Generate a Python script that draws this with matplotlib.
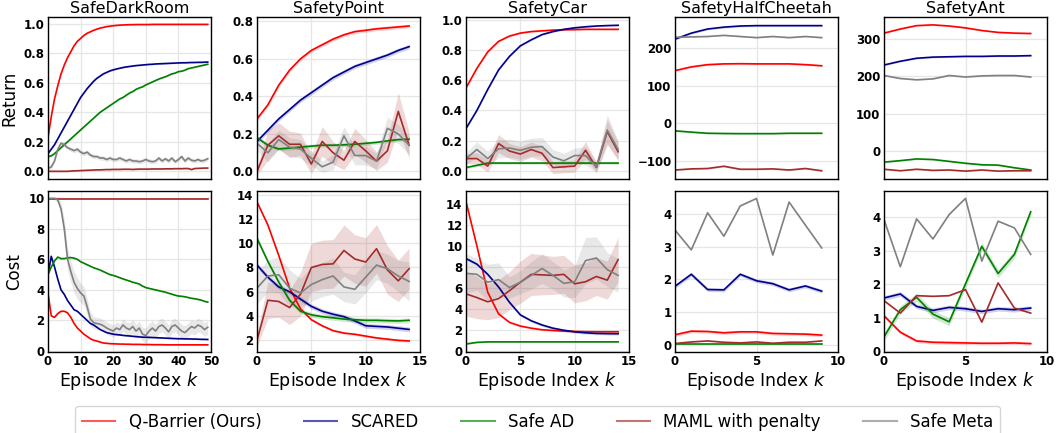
import matplotlib

matplotlib.use("Agg")
import matplotlib.pyplot as plt
import numpy as np
from matplotlib.lines import Line2D

# ---- methods ----
METHODS = ["Q-Barrier (Ours)", "SCARED", "Safe AD", "MAML with penalty", "Safe Meta"]
COLORS = ["red", "darkblue", "green", "brown", "gray"]
ENVS = ["SafeDarkRoom", "SafetyPoint", "SafetyCar", "SafetyHalfCheetah", "SafetyAnt"]

# ---- SafeDarkRoom (50 episodes) ----
dr_ret_qb = [0.23, 0.37, 0.49, 0.58, 0.66, 0.72, 0.77, 0.81, 0.85, 0.88,
             0.90, 0.92, 0.935, 0.945, 0.955, 0.963, 0.97, 0.975, 0.98, 0.983,
             0.986, 0.988, 0.99, 0.991, 0.992, 0.993, 0.993, 0.994, 0.994, 0.994,
             0.994, 0.994, 0.995, 0.995, 0.995, 0.995, 0.995, 0.995, 0.995, 0.995,
             0.995, 0.995, 0.995, 0.995, 0.995, 0.995, 0.995, 0.995, 0.995, 0.995]
dr_ret_sc = [0.12, 0.15, 0.18, 0.22, 0.26, 0.30, 0.34, 0.38, 0.42, 0.46,
             0.50, 0.53, 0.56, 0.585, 0.61, 0.63, 0.645, 0.66, 0.67, 0.68,
             0.687, 0.693, 0.698, 0.703, 0.707, 0.71, 0.713, 0.716, 0.718, 0.72,
             0.722, 0.724, 0.725, 0.727, 0.728, 0.729, 0.73, 0.731, 0.732, 0.733,
             0.734, 0.735, 0.735, 0.736, 0.737, 0.737, 0.738, 0.738, 0.739, 0.74]
dr_ret_ad = [0.10, 0.105, 0.12, 0.14, 0.16, 0.18, 0.20, 0.22, 0.24, 0.26,
             0.28, 0.30, 0.32, 0.34, 0.36, 0.38, 0.40, 0.415, 0.43, 0.445,
             0.46, 0.475, 0.49, 0.50, 0.515, 0.53, 0.54, 0.555, 0.565, 0.572,
             0.585, 0.595, 0.605, 0.615, 0.625, 0.633, 0.64, 0.65, 0.66, 0.665,
             0.675, 0.678, 0.685, 0.695, 0.70, 0.705, 0.71, 0.715, 0.72, 0.725]
dr_ret_mp = [0.0, 0.0, 0.0, 0.0, 0.0, 0.0, 0.0, 0.002, 0.003, 0.004,
             0.005, 0.006, 0.007, 0.008, 0.009, 0.01, 0.01, 0.011, 0.012, 0.012,
             0.013, 0.013, 0.013, 0.014, 0.014, 0.014, 0.013, 0.014, 0.015, 0.015,
             0.015, 0.015, 0.016, 0.016, 0.016, 0.016, 0.017, 0.017, 0.017, 0.018,
             0.018, 0.018, 0.019, 0.019, 0.012, 0.019, 0.02, 0.021, 0.022, 0.022]
dr_ret_sm = [0.02, 0.03, 0.07, 0.15, 0.19, 0.18, 0.16, 0.15, 0.14, 0.15,
             0.13, 0.12, 0.13, 0.11, 0.10, 0.10, 0.09, 0.09, 0.08, 0.09,
             0.08, 0.08, 0.09, 0.08, 0.07, 0.08, 0.07, 0.07, 0.065, 0.07,
             0.08, 0.07, 0.065, 0.07, 0.09, 0.07, 0.085, 0.07, 0.09, 0.065,
             0.08, 0.1, 0.07, 0.09, 0.075, 0.07, 0.08, 0.07, 0.075, 0.085]
dr_ret_sd = [0.004, 0.004, 0.004, 0.004, 0.015]

dr_cost_qb = [3.8, 2.3, 2.2, 2.45, 2.6, 2.6, 2.5, 2.2, 1.8, 1.5,
              1.3, 1.1, 0.95, 0.8, 0.7, 0.65, 0.58, 0.52, 0.5, 0.48,
              0.47, 0.46, 0.45, 0.45, 0.44, 0.44, 0.43, 0.43, 0.43, 0.42,
              0.42, 0.42, 0.41, 0.41, 0.41, 0.41, 0.4, 0.4, 0.4, 0.4,
              0.4, 0.4, 0.4, 0.4, 0.4, 0.4, 0.4, 0.4, 0.4, 0.4]
dr_cost_sc = [5.0, 6.2, 5.5, 4.7, 4.0, 3.7, 3.3, 3.0, 2.7, 2.6,
              2.4, 2.2, 2.0, 1.8, 1.7, 1.55, 1.4, 1.3, 1.2, 1.15,
              1.1, 1.07, 1.05, 1.02, 1.0, 0.98, 0.96, 0.94, 0.92, 0.9,
              0.9, 0.89, 0.88, 0.87, 0.86, 0.85, 0.84, 0.83, 0.82, 0.81,
              0.8, 0.8, 0.79, 0.79, 0.78, 0.78, 0.77, 0.76, 0.76, 0.75]
dr_cost_ad = [5.0, 5.5, 5.9, 6.15, 6.05, 6.05, 6.1, 6.12, 6.08, 6.0,
              5.85, 5.75, 5.65, 5.55, 5.45, 5.38, 5.3, 5.2, 5.1, 5.0,
              4.95, 4.88, 4.8, 4.72, 4.65, 4.58, 4.5, 4.45, 4.38, 4.25,
              4.15, 4.1, 4.05, 4.0, 3.95, 3.9, 3.85, 3.78, 3.72, 3.65,
              3.6, 3.58, 3.55, 3.5, 3.45, 3.42, 3.38, 3.33, 3.25, 3.2]
dr_cost_mp = [9.95] * 50
dr_cost_sm = [10.0, 10.0, 10.0, 9.9, 9.3, 8.0, 6.0, 5.2, 4.5, 4.1,
              3.8, 3.6, 2.9, 2.1, 1.85, 1.8, 1.75, 1.65, 1.5, 1.4,
              1.3, 1.5, 1.4, 1.7, 1.5, 1.4, 1.6, 1.3, 1.5, 1.1,
              1.0, 1.3, 1.5, 1.3, 1.6, 1.7, 1.5, 1.25, 1.6, 1.7,
              1.5, 1.3, 1.2, 1.4, 1.6, 1.5, 1.7, 1.6, 1.4, 1.55]
dr_cost_sm_sd = [0.05, 0.05, 0.1, 0.2, 0.4, 0.6, 0.7, 0.7, 0.7, 0.7,
                 0.65, 0.6, 0.55, 0.45, 0.4, 0.4, 0.4, 0.4, 0.4, 0.4,
                 0.4, 0.4, 0.4, 0.4, 0.4, 0.45, 0.45, 0.45, 0.45, 0.45,
                 0.5, 0.5, 0.5, 0.45, 0.45, 0.45, 0.45, 0.45, 0.45, 0.45,
                 0.45, 0.45, 0.45, 0.45, 0.45, 0.45, 0.45, 0.45, 0.45, 0.45]
dr_cost_sd = [0.04, 0.04, 0.04, 0.08, dr_cost_sm_sd]

# ---- SafetyPoint (15 episodes) ----
pt_ret_qb = [0.28, 0.355, 0.46, 0.54, 0.60, 0.645, 0.675, 0.705, 0.728, 0.745,
             0.752, 0.76, 0.765, 0.77, 0.775]
pt_ret_sc = [0.16, 0.22, 0.28, 0.33, 0.38, 0.42, 0.46, 0.50, 0.53, 0.56,
             0.58, 0.60, 0.62, 0.645, 0.665]
pt_ret_ad = [0.18, 0.14, 0.12, 0.125, 0.13, 0.135, 0.14, 0.14, 0.142, 0.145,
             0.15, 0.155, 0.163, 0.17, 0.172]
pt_ret_mp = [0.0, 0.14, 0.19, 0.145, 0.145, 0.04, 0.16, 0.10, 0.06, 0.16,
             0.11, 0.055, 0.11, 0.32, 0.14]
pt_ret_sm = [0.15, 0.10, 0.17, 0.13, 0.12, 0.07, 0.025, 0.05, 0.19, 0.085,
             0.085, 0.055, 0.23, 0.20, 0.14]
pt_ret_mp_sd = [0.02, 0.08, 0.07, 0.07, 0.06, 0.05, 0.08, 0.06, 0.05, 0.07,
                0.06, 0.05, 0.06, 0.1, 0.07]
pt_ret_sm_sd = [0.04, 0.05, 0.05, 0.05, 0.05, 0.04, 0.03, 0.04, 0.05, 0.05,
                0.05, 0.04, 0.06, 0.05, 0.05]
pt_ret_sd = [0.01, 0.012, 0.01, pt_ret_mp_sd, pt_ret_sm_sd]

pt_cost_qb = [13.4, 11.5, 9.0, 6.3, 4.6, 3.7, 3.2, 2.8, 2.6, 2.5,
              2.35, 2.2, 2.1, 2.0, 1.95]
pt_cost_sc = [8.2, 7.2, 6.4, 6.0, 5.4, 4.8, 4.4, 4.15, 3.95, 3.6,
              3.2, 3.15, 3.1, 3.0, 2.9]
pt_cost_ad = [10.4, 8.5, 6.8, 5.3, 4.4, 4.1, 3.95, 3.85, 3.75, 3.7,
              3.65, 3.65, 3.62, 3.6, 3.65]
pt_cost_mp = [2.0, 5.3, 5.2, 4.7, 5.8, 8.0, 8.25, 8.3, 9.4, 8.7,
              8.45, 9.55, 7.8, 6.9, 7.9]
pt_cost_sm = [6.3, 7.3, 7.4, 6.3, 5.9, 6.6, 7.0, 7.3, 6.4, 6.2,
              7.2, 8.2, 7.9, 7.3, 6.85]
pt_cost_mp_sd = [0.5, 1.5, 1.3, 1.4, 1.8, 2.0, 2.0, 2.0, 2.1, 2.0,
                 2.0, 2.0, 2.0, 1.7, 1.7]
pt_cost_sm_sd = [1.3, 1.3, 1.5, 1.5, 1.2, 1.4, 1.4, 1.5, 1.2, 1.2,
                 1.3, 1.2, 1.2, 1.3, 1.6]
pt_cost_sd = [0.1, 0.2, 0.2, pt_cost_mp_sd, pt_cost_sm_sd]

# ---- SafetyCar (15 episodes) ----
car_ret_qb = [0.55, 0.68, 0.79, 0.86, 0.895, 0.915, 0.925, 0.93, 0.935, 0.937,
              0.938, 0.94, 0.94, 0.94, 0.94]
car_ret_sc = [0.28, 0.40, 0.54, 0.67, 0.76, 0.83, 0.87, 0.905, 0.925, 0.94,
              0.95, 0.957, 0.962, 0.965, 0.967]
car_ret_ad = [0.02, 0.035, 0.05, 0.05, 0.05, 0.05, 0.05, 0.05, 0.05, 0.05,
              0.05, 0.05, 0.05, 0.05, 0.05]
car_ret_mp = [0.08, 0.08, 0.03, 0.18, 0.13, 0.11, 0.14, 0.115, 0.02, 0.025,
              0.03, 0.135, 0.02, 0.26, 0.125]
car_ret_sm = [0.08, 0.14, 0.08, 0.145, 0.15, 0.135, 0.155, 0.16, 0.09, 0.065,
              0.10, 0.10, 0.025, 0.27, 0.14]
car_ret_mp_sd = [0.03, 0.04, 0.04, 0.06, 0.05, 0.05, 0.05, 0.05, 0.04, 0.04,
                 0.04, 0.06, 0.03, 0.08, 0.06]
car_ret_sm_sd = [0.04, 0.05, 0.05, 0.06, 0.06, 0.06, 0.06, 0.06, 0.05, 0.05,
                 0.05, 0.06, 0.04, 0.1, 0.06]
car_ret_sd = [0.005, 0.005, 0.008, car_ret_mp_sd, car_ret_sm_sd]

car_cost_qb = [14.2, 10.0, 5.6, 3.55, 2.75, 2.4, 2.2, 2.05, 1.98, 1.92,
               1.89, 1.87, 1.86, 1.86, 1.86]
car_cost_sc = [8.8, 8.27, 7.3, 6.1, 4.65, 3.46, 2.9, 2.5, 2.2, 2.0,
               1.85, 1.76, 1.7, 1.68, 1.67]
car_cost_ad = [0.7, 0.85, 0.9, 0.9, 0.9, 0.9, 0.9, 0.9, 0.9, 0.9,
               0.9, 0.9, 0.9, 0.9, 0.9]
car_cost_mp = [5.45, 5.1, 4.7, 5.0, 5.75, 6.55, 7.3, 7.25, 7.2, 7.3,
               6.4, 6.6, 7.1, 6.75, 8.7]
car_cost_sm = [7.4, 7.3, 6.55, 6.8, 6.05, 6.55, 7.2, 7.85, 7.2, 6.45,
               6.6, 8.6, 8.85, 7.75, 7.2]
car_cost_mp_sd = [2.1, 2.0, 1.7, 1.8, 1.8, 2.0, 2.0, 1.9, 1.8, 1.8,
                  1.8, 1.8, 1.8, 1.8, 2.1]
car_cost_sm_sd = [1.9, 1.5, 1.7, 1.6, 1.0, 1.1, 1.3, 1.4, 1.3, 1.3,
                  1.5, 2.2, 2.0, 1.6, 1.6]
car_cost_sd = [0.08, 0.12, 0.05, car_cost_mp_sd, car_cost_sm_sd]

# ---- SafetyHalfCheetah (10 episodes) ----
hc_ret_qb = [140, 150, 156, 158, 158.5, 158, 158, 158, 156, 153]
hc_ret_sc = [224, 240, 251, 256, 259, 260, 260, 260, 260, 260]
hc_ret_ad = [-20.5, -24, -27, -27.6, -28, -28, -28, -27, -27, -27]
hc_ret_mp = [-125, -122, -121, -115, -123, -123, -122, -125, -121, -127]
hc_ret_sm = [229, 230, 231, 234, 231, 228, 231, 228, 231, 228]
hc_ret_sd = [2.5, 2.5, 2.0, 2.0, 1.5]

hc_cost_qb = [0.30, 0.41, 0.40, 0.36, 0.39, 0.39, 0.34, 0.33, 0.32, 0.29]
hc_cost_sc = [1.79, 2.16, 1.69, 1.68, 2.16, 1.96, 1.87, 1.68, 1.80, 1.64]
hc_cost_ad = [0.005, 0.005, 0.005, 0.005, 0.005, 0.005, 0.005, 0.005, 0.005, 0.005]
hc_cost_mp = [0.03, 0.08, 0.11, 0.07, 0.05, 0.08, 0.04, 0.07, 0.07, 0.11]
hc_cost_sm = [3.52, 2.91, 4.05, 3.33, 4.26, 4.49, 2.75, 4.38, 3.67, 2.97]
hc_cost_sd = [0.05, 0.06, 0.02, 0.015, 0.01]

# ---- SafetyAnt (10 episodes) ----
ant_ret_qb = [315, 326, 335, 337, 334, 329, 322, 317, 315, 314]
ant_ret_sc = [230, 240, 248, 251, 252, 253, 253, 254, 254, 255]
ant_ret_ad = [-29, -25, -20.5, -22, -27, -32, -36, -37, -44, -50]
ant_ret_mp = [-48, -52, -48, -51, -50, -53, -50, -53, -52, -52]
ant_ret_sm = [202, 194, 190.5, 193, 202, 198, 201, 202, 202, 198]
ant_ret_sd = [2.0, 2.0, 2.0, 1.5, 1.5]

ant_cost_qb = [1.06, 0.57, 0.31, 0.27, 0.26, 0.25, 0.24, 0.24, 0.25, 0.23]
ant_cost_sc = [1.59, 1.71, 1.34, 1.22, 1.31, 1.27, 1.19, 1.27, 1.24, 1.29]
ant_cost_ad = [0.43, 1.24, 1.61, 1.11, 0.88, 2.01, 3.13, 2.32, 2.89, 4.16]
ant_cost_mp = [1.51, 1.14, 1.66, 1.64, 1.66, 1.84, 0.87, 2.04, 1.29, 1.14]
ant_cost_sm = [3.93, 2.52, 3.95, 3.35, 4.08, 4.56, 2.69, 3.88, 3.68, 2.89]
ant_cost_sd = [0.05, 0.07, 0.12, 0.015, 0.01]

RETURNS = [
    ([dr_ret_qb, dr_ret_sc, dr_ret_ad, dr_ret_mp, dr_ret_sm], dr_ret_sd),
    ([pt_ret_qb, pt_ret_sc, pt_ret_ad, pt_ret_mp, pt_ret_sm], pt_ret_sd),
    ([car_ret_qb, car_ret_sc, car_ret_ad, car_ret_mp, car_ret_sm], car_ret_sd),
    ([hc_ret_qb, hc_ret_sc, hc_ret_ad, hc_ret_mp, hc_ret_sm], hc_ret_sd),
    ([ant_ret_qb, ant_ret_sc, ant_ret_ad, ant_ret_mp, ant_ret_sm], ant_ret_sd),
]
COSTS = [
    ([dr_cost_qb, dr_cost_sc, dr_cost_ad, dr_cost_mp, dr_cost_sm], dr_cost_sd),
    ([pt_cost_qb, pt_cost_sc, pt_cost_ad, pt_cost_mp, pt_cost_sm], pt_cost_sd),
    ([car_cost_qb, car_cost_sc, car_cost_ad, car_cost_mp, car_cost_sm], car_cost_sd),
    ([hc_cost_qb, hc_cost_sc, hc_cost_ad, hc_cost_mp, hc_cost_sm], hc_cost_sd),
    ([ant_cost_qb, ant_cost_sc, ant_cost_ad, ant_cost_mp, ant_cost_sm], ant_cost_sd),
]

XLIMS = [(0, 50), (0, 15), (0, 15), (0, 10), (0, 10)]
XTICKS = [[0, 10, 20, 30, 40, 50], [0, 5, 10, 15], [0, 5, 10, 15], [0, 5, 10], [0, 5, 10]]
RET_YLIMS = [(-0.052, 1.045), (-0.04, 0.823), (-0.056, 1.022), (-149, 283), (-74, 358)]
RET_YTICKS = [np.arange(0, 1.01, 0.2), np.arange(0, 0.81, 0.2), np.arange(0, 1.01, 0.2),
              [-100, 0, 100, 200], [0, 100, 200, 300]]
COST_YLIMS = [(-0.07, 10.48), (1.04, 14.3), (-0.06, 15.2), (-0.23, 4.72), (-0.02, 4.78)]
COST_YTICKS = [[0, 2, 4, 6, 8, 10], [2, 4, 6, 8, 10, 12, 14], [0, 2, 4, 6, 8, 10, 12, 14],
               [0, 1, 2, 3, 4], [0, 1, 2, 3, 4]]

W, H = 1056, 433
COL_LEFT = [48, 257, 466, 675, 884]
AX_W = 163
ROW_TOP = [17, 191]
ROW_H = [162, 161]


def draw_panel(ax, series, bands):
    for vals, sd, color in zip(series, bands, COLORS):
        y = np.asarray(vals, dtype=float)
        x = np.arange(len(y))
        s = np.asarray(sd, dtype=float)
        ax.fill_between(x, y - s, y + s, color=color, alpha=0.18, linewidth=0)
        ax.plot(x, y, color=color, linewidth=1.2)


def style_axis(ax):
    ax.grid(True, color="#e6e6e6", linewidth=0.9)
    ax.set_axisbelow(True)
    ax.tick_params(length=0, pad=2.5, labelsize=8.5)
    for sp in ax.spines.values():
        sp.set_color("black")
        sp.set_linewidth(1.0)
    for lab in ax.get_xticklabels() + ax.get_yticklabels():
        lab.set_fontweight("bold")


fig = plt.figure(figsize=(W / 100, H / 100), dpi=100)

for col in range(5):
    for row in range(2):
        left = COL_LEFT[col] / W
        bottom = 1 - (ROW_TOP[row] + ROW_H[row]) / H
        ax = fig.add_axes([left, bottom, AX_W / W, ROW_H[row] / H])
        if row == 0:
            series, bands = RETURNS[col]
            draw_panel(ax, series, bands)
            ax.set_ylim(*RET_YLIMS[col])
            ax.set_yticks(RET_YTICKS[col])
            if col in (0, 1, 2):
                ax.set_yticklabels([f"{v:.1f}" for v in RET_YTICKS[col]])
            ax.set_title(ENVS[col], fontsize=11.5, pad=3)
        else:
            series, bands = COSTS[col]
            draw_panel(ax, series, bands)
            ax.set_ylim(*COST_YLIMS[col])
            ax.set_yticks(COST_YTICKS[col])
            ax.set_xlabel("Episode Index $k$", fontsize=12.5, labelpad=1)
        ax.set_xlim(*XLIMS[col])
        ax.set_xticks(XTICKS[col])
        if row == 0:
            ax.set_xticklabels([])
        style_axis(ax)
        if col == 0:
            ax.set_ylabel("Return" if row == 0 else "Cost", fontsize=12, labelpad=4)

handles = [Line2D([0], [0], color=c, alpha=0.65, linewidth=1.5) for c in COLORS]
fig.legend(handles, METHODS, loc="upper center", bbox_to_anchor=(0.509, 1 - 406 / H),
           ncol=5, fontsize=12, frameon=True, handlelength=2.0, handletextpad=0.8,
           columnspacing=2.55, borderaxespad=0)

fig.savefig("out.png", dpi=100)
